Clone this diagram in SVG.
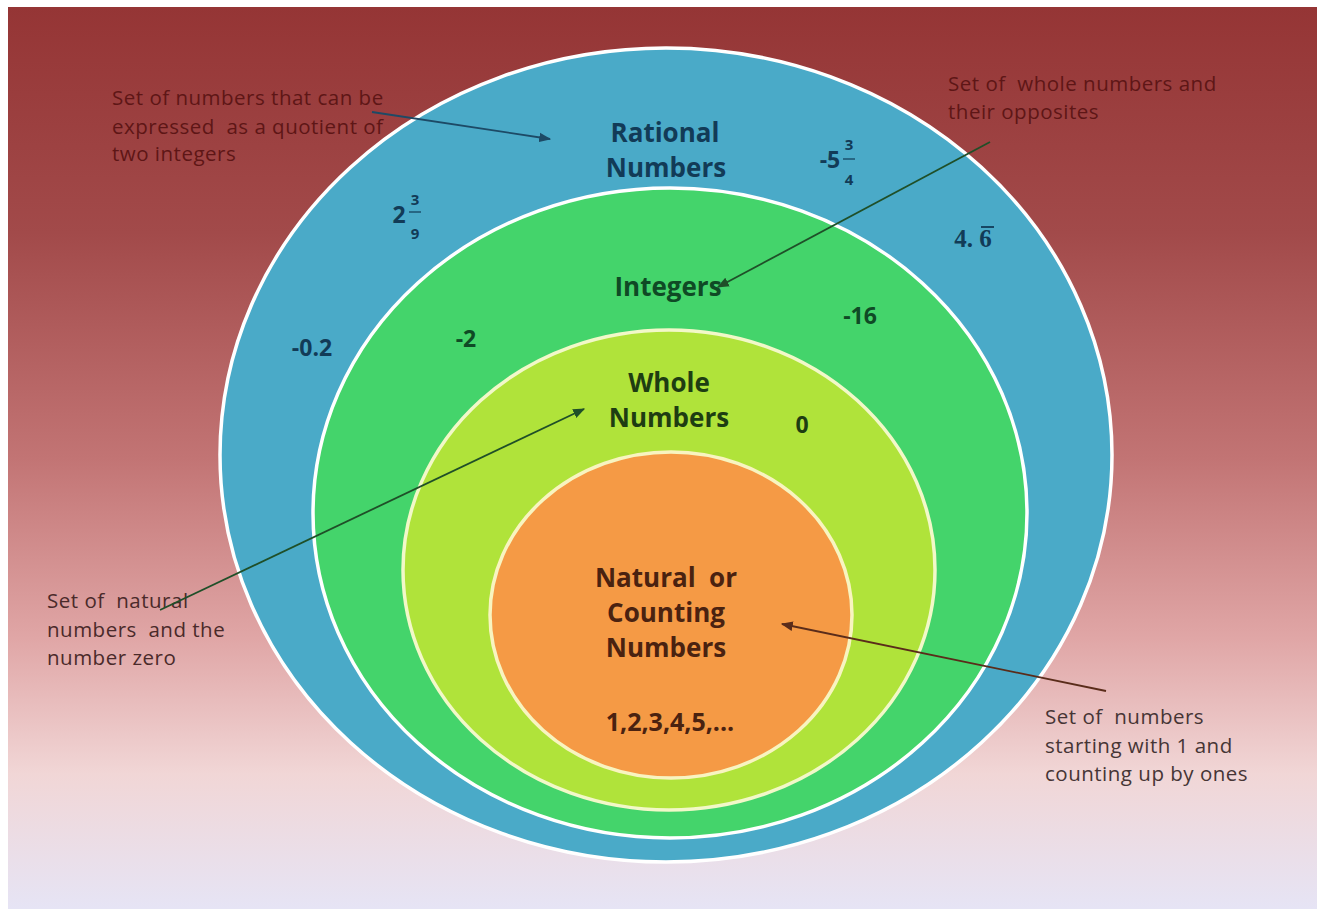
<svg xmlns="http://www.w3.org/2000/svg" width="1317" height="909" viewBox="0 0 1317 909">
<defs>
<linearGradient id="bg" x1="0" y1="0" x2="0" y2="1">
<stop offset="0" stop-color="#953535"/>
<stop offset="0.25" stop-color="#a24a4a"/>
<stop offset="0.5" stop-color="#c27474"/>
<stop offset="0.7" stop-color="#e0a6a6"/>
<stop offset="0.85" stop-color="#f1d6d6"/>
<stop offset="1" stop-color="#e6e4f5"/>
</linearGradient>
<marker id="ah2" viewBox="0 0 10 10" refX="9" refY="5" markerWidth="12" markerHeight="12" orient="auto" markerUnits="userSpaceOnUse">
<path d="M0,1 L10,5 L0,9 z" fill="#1d4a66"/>
</marker>
<marker id="ah3" viewBox="0 0 10 10" refX="9" refY="5" markerWidth="12" markerHeight="12" orient="auto" markerUnits="userSpaceOnUse">
<path d="M0,1 L10,5 L0,9 z" fill="#1f4f28"/>
</marker>
<marker id="ah4" viewBox="0 0 10 10" refX="9" refY="5" markerWidth="12" markerHeight="12" orient="auto" markerUnits="userSpaceOnUse">
<path d="M0,1 L10,5 L0,9 z" fill="#5a2c1a"/>
</marker>
</defs>
<style>
.ring{stroke:#ffffff;stroke-width:3.5}
.lbl{font-family:"Open Sans","Liberation Sans",sans-serif;font-weight:700;font-size:26px;text-anchor:middle}
.num{font-family:"Open Sans","Liberation Sans",sans-serif;font-weight:700;font-size:23px;text-anchor:middle}
.note{font-family:"Open Sans","Liberation Sans",sans-serif;font-size:20.5px;letter-spacing:0.5px}
.frac{font-family:"Open Sans","Liberation Sans",sans-serif;font-weight:700;font-size:15px;text-anchor:middle}
.conn{fill:none;stroke-width:1.8}
</style>
<rect x="0" y="0" width="1317" height="909" fill="#ffffff"/>
<rect x="8" y="7" width="1309" height="902" fill="url(#bg)"/>

<g id="rational">
<ellipse class="ring" cx="666" cy="455" rx="446" ry="407" fill="#4aaac8"/>
<text class="lbl" x="665" y="142" fill="#123b57">Rational</text>
<text class="lbl" x="666" y="177" fill="#123b57">Numbers</text>
<text class="num" x="312" y="356" fill="#123b57">-0.2</text>
<text class="num" x="399" y="223" fill="#123b57">2</text>
<text class="frac" x="415" y="205" fill="#123b57">3</text>
<line x1="409" y1="212" x2="421" y2="212" stroke="#123b57" stroke-width="1.2"/>
<text class="frac" x="415" y="239" fill="#123b57">9</text>
<text class="num" x="830" y="168" fill="#123b57">-5</text>
<text class="frac" x="849" y="150" fill="#123b57">3</text>
<line x1="843" y1="159" x2="855" y2="159" stroke="#123b57" stroke-width="1.2"/>
<text class="frac" x="849" y="185" fill="#123b57">4</text>
<text x="973" y="247" fill="#123b57" style="font-family:'Liberation Serif','DejaVu Serif',serif;font-weight:700;font-size:25px;text-anchor:middle">4. 6</text>
<line x1="981" y1="227" x2="994" y2="227" stroke="#123b57" stroke-width="1.8"/>
</g>

<g id="integers">
<ellipse class="ring" cx="670" cy="513" rx="357" ry="325" fill="#44d46b"/>
<text class="lbl" x="668" y="296" fill="#0f4a25">Integers</text>
<text class="num" x="466" y="347" fill="#0f4a25">-2</text>
<text class="num" x="860" y="324" fill="#0f4a25">-16</text>
</g>

<g id="whole">
<ellipse class="ring" cx="669" cy="570" rx="266" ry="240" fill="#b0e33a" style="stroke:#f2f8c8"/>
<text class="lbl" x="669" y="392" fill="#1e3d12">Whole</text>
<text class="lbl" x="669" y="427" fill="#1e3d12">Numbers</text>
<text class="num" x="802" y="433" fill="#1e3d12">0</text>
</g>

<g id="natural">
<ellipse class="ring" cx="671" cy="615" rx="181" ry="163" fill="#f59a45" style="stroke:#f8f4c0"/>
<text class="lbl" x="666" y="587" fill="#4a2210" xml:space="preserve">Natural  or</text>
<text class="lbl" x="666" y="622" fill="#4a2210">Counting</text>
<text class="lbl" x="666" y="657" fill="#4a2210">Numbers</text>
<text class="num" x="670" y="731" fill="#4a2210" style="font-size:25px">1,2,3,4,5,...</text>
</g>

<g id="notes">
<text class="note" fill="#5e1616" xml:space="preserve"><tspan x="112" y="105">Set of numbers that can be</tspan><tspan x="112" y="134">expressed  as a quotient of</tspan><tspan x="112" y="161">two integers</tspan></text>
<text class="note" fill="#5e1616" xml:space="preserve"><tspan x="948" y="91">Set of  whole numbers and</tspan><tspan x="948" y="119">their opposites</tspan></text>
<text class="note" fill="#4a2a2a" xml:space="preserve"><tspan x="47" y="608">Set of  natural</tspan><tspan x="47" y="637">numbers  and the</tspan><tspan x="47" y="665">number zero</tspan></text>
<text class="note" fill="#463535" xml:space="preserve"><tspan x="1045" y="724">Set of  numbers</tspan><tspan x="1045" y="753">starting with 1 and</tspan><tspan x="1045" y="781">counting up by ones</tspan></text>
</g>

<g id="connectors">
<line class="conn" x1="372" y1="112" x2="550" y2="139" stroke="#1d4a66" marker-end="url(#ah2)"/>
<line class="conn" x1="990" y1="142" x2="718" y2="287" stroke="#1f4f28" marker-end="url(#ah3)"/>
<line class="conn" x1="160" y1="610" x2="584" y2="409" stroke="#1f4f28" marker-end="url(#ah3)"/>
<line class="conn" x1="1106" y1="691" x2="782" y2="624" stroke="#5a2c1a" marker-end="url(#ah4)"/>
</g>
</svg>
